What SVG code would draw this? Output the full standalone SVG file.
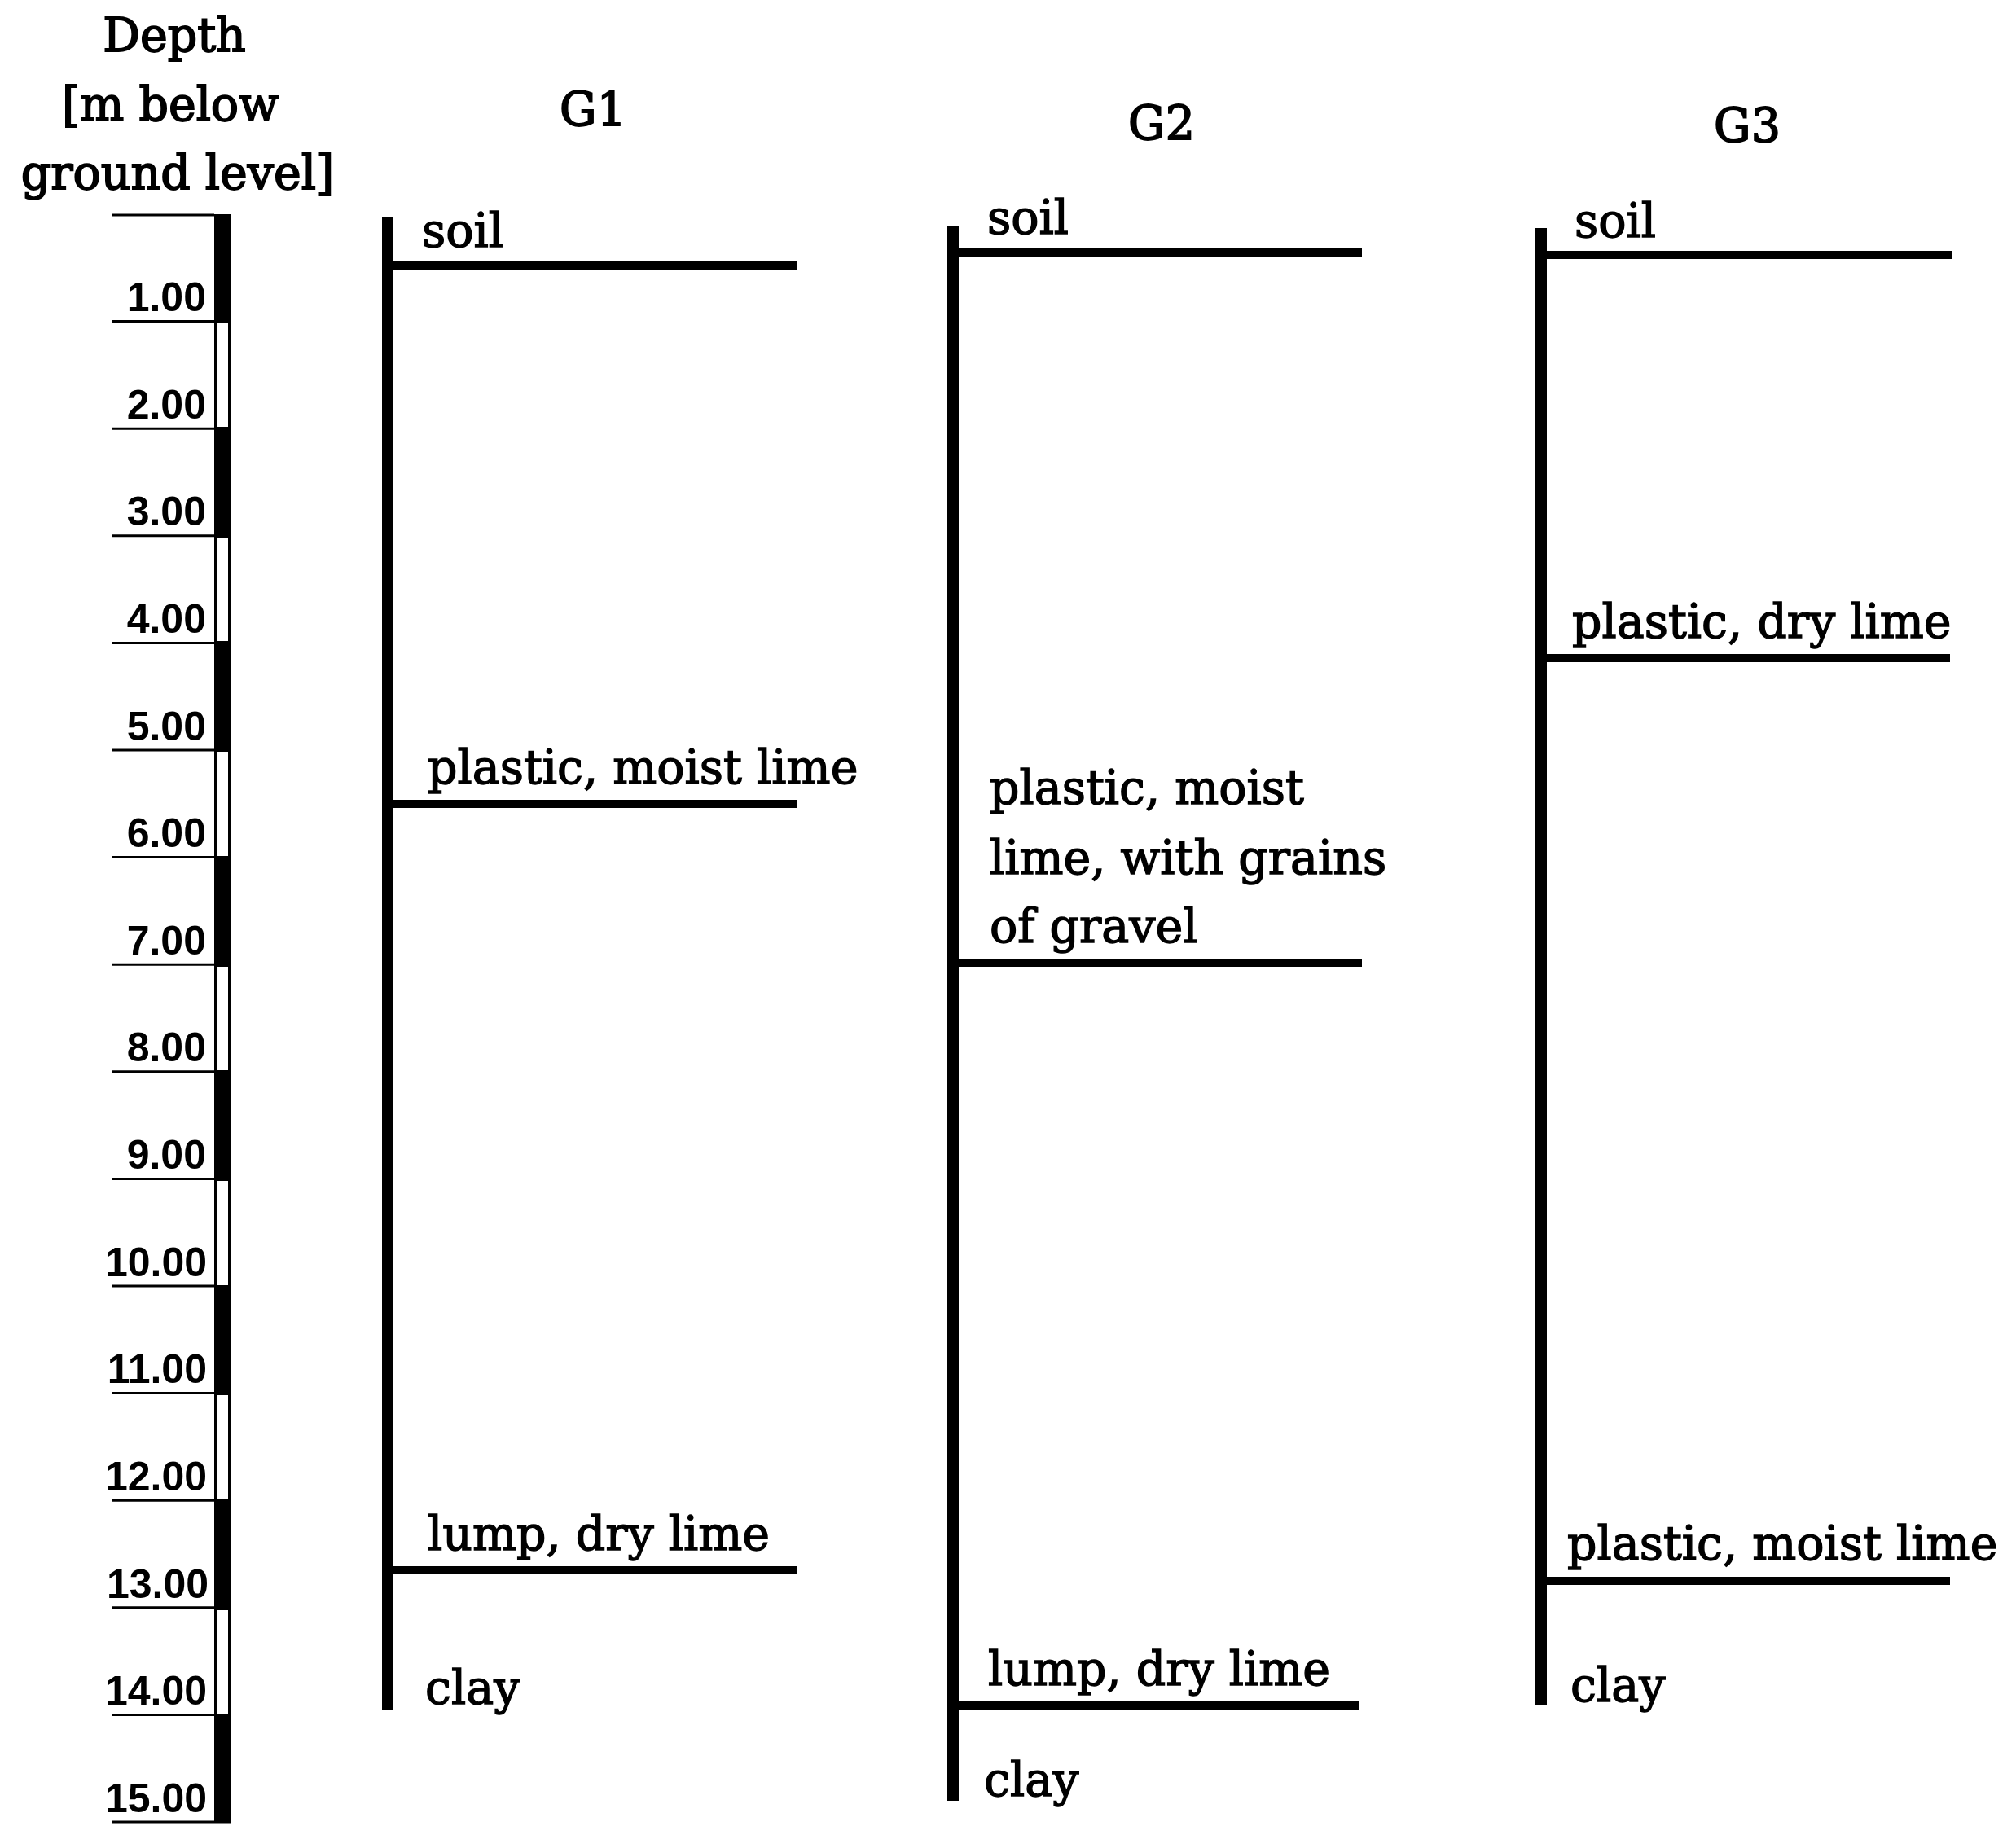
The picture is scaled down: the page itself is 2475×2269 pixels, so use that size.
<svg xmlns="http://www.w3.org/2000/svg" width="2475" height="2269" viewBox="0 0 2475 2269">
<style>
.t{font-family:"DejaVu Serif","Liberation Serif",serif;font-size:57px;fill:#000;stroke:#000;stroke-width:1.4}
.h{font-family:"DejaVu Serif","Liberation Serif",serif;font-size:57px;fill:#000;stroke:#000;stroke-width:1.8;text-anchor:middle}
.n{font-family:"Liberation Sans",Arial,sans-serif;font-weight:bold;font-size:50px;fill:#000;text-anchor:end}
.tick{stroke:#000;stroke-width:3}
.bore{stroke:#000;stroke-width:14}
.layer{stroke:#000;stroke-width:10}
</style>
<rect width="2475" height="2269" fill="#fff"/>
<g id="header">
<text class="h" x="214" y="63">Depth</text>
<text class="h" x="209" y="148">[m below</text>
<text class="h" x="218" y="232">ground level]</text>
</g>
<g id="depth-scale">
<rect x="263" y="263" width="20" height="1975" fill="#000"/>
<rect x="267" y="397" width="13" height="127" fill="#fff"/>
<rect x="267" y="660" width="13" height="127" fill="#fff"/>
<rect x="267" y="923" width="13" height="128" fill="#fff"/>
<rect x="267" y="1187" width="13" height="127" fill="#fff"/>
<rect x="267" y="1450" width="13" height="128" fill="#fff"/>
<rect x="267" y="1713" width="13" height="128" fill="#fff"/>
<rect x="267" y="1977" width="13" height="127" fill="#fff"/>
<line class="tick" x1="137" y1="264" x2="263" y2="264"/>
<line class="tick" x1="137" y1="394.6" x2="263" y2="394.6"/>
<line class="tick" x1="137" y1="526.2" x2="263" y2="526.2"/>
<line class="tick" x1="137" y1="657.8" x2="263" y2="657.8"/>
<line class="tick" x1="137" y1="789.4" x2="263" y2="789.4"/>
<line class="tick" x1="137" y1="921" x2="263" y2="921"/>
<line class="tick" x1="137" y1="1052.6" x2="263" y2="1052.6"/>
<line class="tick" x1="137" y1="1184.2" x2="263" y2="1184.2"/>
<line class="tick" x1="137" y1="1315.8" x2="263" y2="1315.8"/>
<line class="tick" x1="137" y1="1447.4" x2="263" y2="1447.4"/>
<line class="tick" x1="137" y1="1579" x2="263" y2="1579"/>
<line class="tick" x1="137" y1="1710.6" x2="263" y2="1710.6"/>
<line class="tick" x1="137" y1="1842.2" x2="263" y2="1842.2"/>
<line class="tick" x1="137" y1="1973.8" x2="263" y2="1973.8"/>
<line class="tick" x1="137" y1="2105.4" x2="263" y2="2105.4"/>
<line class="tick" x1="137" y1="2237" x2="283" y2="2237"/>
<text class="n" x="253" y="382">1.00</text>
<text class="n" x="253" y="514">2.00</text>
<text class="n" x="253" y="645">3.00</text>
<text class="n" x="253" y="777">4.00</text>
<text class="n" x="253" y="909">5.00</text>
<text class="n" x="253" y="1040">6.00</text>
<text class="n" x="253" y="1172">7.00</text>
<text class="n" x="253" y="1303">8.00</text>
<text class="n" x="253" y="1435">9.00</text>
<text class="n" x="254" y="1567">10.00</text>
<text class="n" x="254" y="1698">11.00</text>
<text class="n" x="254" y="1830">12.00</text>
<text class="n" x="256" y="1962">13.00</text>
<text class="n" x="254" y="2093">14.00</text>
<text class="n" x="254" y="2225">15.00</text>
</g>
<g id="G1">
<text class="h" x="728" y="154">G1</text>
<line class="bore" x1="476" y1="267" x2="476" y2="2100"/>
<line class="layer" x1="476" y1="326" x2="979" y2="326"/>
<line class="layer" x1="476" y1="987" x2="979" y2="987"/>
<line class="layer" x1="476" y1="1928" x2="979" y2="1928"/>
<text class="t" x="518" y="303">soil</text>
<text class="t" x="525" y="962">plastic, moist lime</text>
<text class="t" x="525" y="1903">lump, dry lime</text>
<text class="t" x="522" y="2092">clay</text>
</g>
<g id="G2">
<text class="h" x="1426" y="171">G2</text>
<line class="bore" x1="1170" y1="277" x2="1170" y2="2211"/>
<line class="layer" x1="1170" y1="310" x2="1672" y2="310"/>
<line class="layer" x1="1170" y1="1182" x2="1672" y2="1182"/>
<line class="layer" x1="1170" y1="2094" x2="1669" y2="2094"/>
<text class="t" x="1212" y="287">soil</text>
<text class="t" x="1215" y="987">plastic, moist</text>
<text class="t" x="1215" y="1073">lime, with grains</text>
<text class="t" x="1215" y="1157">of gravel</text>
<text class="t" x="1213" y="2069">lump, dry lime</text>
<text class="t" x="1208" y="2205">clay</text>
</g>
<g id="G3">
<text class="h" x="2145" y="174">G3</text>
<line class="bore" x1="1892" y1="280" x2="1892" y2="2094"/>
<line class="layer" x1="1892" y1="313" x2="2396" y2="313"/>
<line class="layer" x1="1892" y1="808" x2="2394" y2="808"/>
<line class="layer" x1="1892" y1="1941" x2="2394" y2="1941"/>
<text class="t" x="1933" y="291">soil</text>
<text class="t" x="1930" y="783">plastic, dry lime</text>
<text class="t" x="1924" y="1915">plastic, moist lime</text>
<text class="t" x="1928" y="2089">clay</text>
</g>
<g id="connectors"></g>
</svg>
